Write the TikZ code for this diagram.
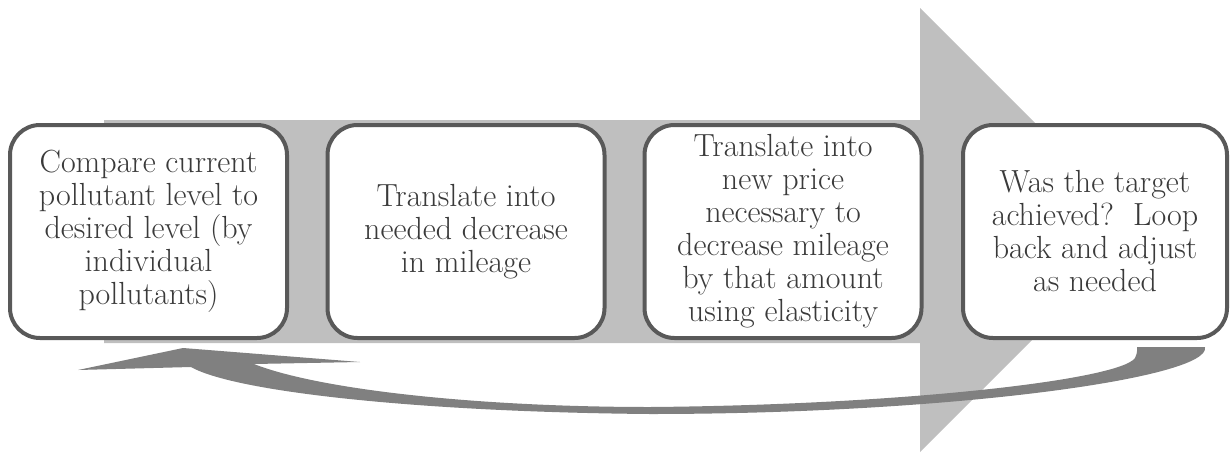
\documentclass[tikz,border=0pt]{standalone}
\definecolor{shaftgray}{HTML}{BFBFBF}
\definecolor{loopgray}{HTML}{808080}
\definecolor{edgegray}{HTML}{595959}
\definecolor{textgray}{HTML}{3A3A3A}
\tikzset{
    stepbox/.style={draw=edgegray, line width=4pt, fill=white, rounded corners=30pt,
        minimum width=277pt, minimum height=213pt, align=center, text=textgray,
        font=\fontsize{32}{33}\selectfont}
}

\begin{document}
\begin{tikzpicture}[x=1pt, y=-1pt]
    \useasboundingbox (0,0) rectangle (1230,453);

    % Duza strzalka w tle
    \fill[shaftgray] (104,120) -- (920,120) -- (920,8) -- (1142,230) -- (920,452)
        -- (920,343) -- (104,343) -- cycle;

    % Strzalka powrotna
    \fill[loopgray] (1205,347) .. controls (1212,378) and (950,414) .. (650,414)
        .. controls (420,412) and (235,392) .. (191,367)
        -- (78,370) -- (183,348) -- (360,362) -- (254,364)
        .. controls (320,390) and (480,407) .. (650,407)
        .. controls (900,405) and (1120,380) .. (1135,358)
        .. controls (1138,352) and (1137,348) .. (1137,347) -- cycle;

    % Kroki
    \node[stepbox] (compare) at (148.5,231.5) {Compare current\\pollutant level to\\desired level (by\\individual\\pollutants)};
    \node[stepbox] (mileage) at (466,231.5) {Translate into\\needed decrease\\in mileage};
    \node[stepbox] (price) at (783,231.5) {Translate into\\new price\\necessary to\\decrease mileage\\by that amount\\using elasticity};
    \node[stepbox, minimum width=264pt] (target) at (1095,231.5) {Was the target\\achieved?\ \ Loop\\back and adjust\\as needed};
\end{tikzpicture}
\end{document}
